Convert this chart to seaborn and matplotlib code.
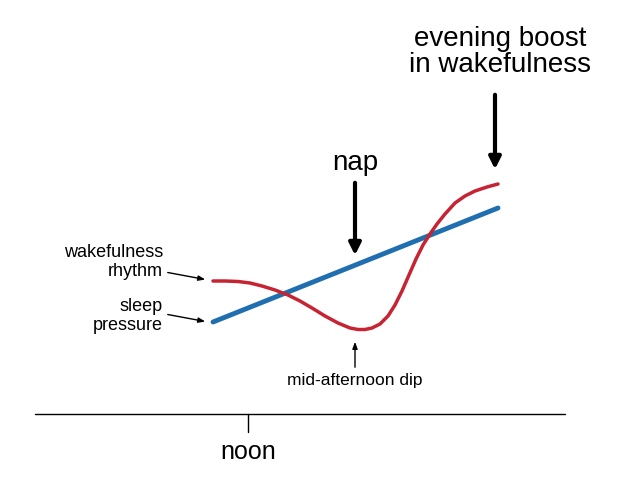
import matplotlib
matplotlib.use("Agg")
import matplotlib.pyplot as plt
import seaborn as sns

# data (pixel-space)
blue_x = [213, 498]
blue_y = [322, 208]
red_x = [213, 225, 238, 250, 262, 275, 288, 300, 312, 325, 338, 350, 358, 365, 372, 380, 388, 395,
         402, 409, 416, 423, 430, 437, 445, 455, 465, 475, 487, 498]
red_y = [281, 281, 281.5, 283, 286, 290, 295, 301, 308, 316, 323, 328, 329.5, 329.5, 328, 324, 316, 305,
         291, 275, 259, 245, 234, 224, 214, 203, 196, 191, 187, 184]

sns.set_style("white")
plt.rcParams['font.family'] = ['Liberation Sans', 'DejaVu Sans']
plt.rcParams['text.color'] = 'black'
fig = plt.figure(figsize=(6.35, 4.99), dpi=100)
ax = fig.add_axes([0, 0, 1, 1])
ax.set_xlim(0, 635)
ax.set_ylim(499, 0)
ax.axis('off')

sns.lineplot(x=blue_x, y=blue_y, ax=ax, color='#1f6fb0', lw=3.5, sort=False)
sns.lineplot(x=red_x, y=red_y, ax=ax, color='#c62432', lw=2.5, sort=False)

# baseline
ax.plot([35, 565], [414, 414], color='black', lw=1)
ax.plot([248, 248], [414, 432], color='black', lw=1)
ax.text(248, 452, 'noon', ha='center', va='center', fontsize=18, color='black')

big = dict(arrowstyle='-|>,head_width=0.35,head_length=0.7', color='black', lw=3)
small = dict(arrowstyle='-|>,head_width=0.15,head_length=0.4', color='black', lw=1)

ax.text(500, 52, 'evening boost\nin wakefulness', ha='center', va='center', fontsize=20, linespacing=1.0, color='black')
ax.annotate('', xy=(495, 172), xytext=(495, 92), arrowprops=big)
ax.text(355, 163, 'nap', ha='center', va='center', fontsize=20, color='black')
ax.annotate('', xy=(355, 258), xytext=(355, 180), arrowprops=big)

ax.text(163, 262, 'wakefulness\nrhythm', ha='right', va='center', fontsize=13, linespacing=1.1, color='black')
ax.annotate('', xy=(208, 280), xytext=(165, 272), arrowprops=small)
ax.text(163, 316, 'sleep\npressure', ha='right', va='center', fontsize=13, linespacing=1.1, color='black')
ax.annotate('', xy=(208, 322), xytext=(165, 314), arrowprops=small)
ax.text(355, 381, 'mid-afternoon dip', ha='center', va='center', fontsize=12.5, color='black')
ax.annotate('', xy=(355, 339), xytext=(355, 370), arrowprops=small)

fig.savefig('out.png', dpi=100)
